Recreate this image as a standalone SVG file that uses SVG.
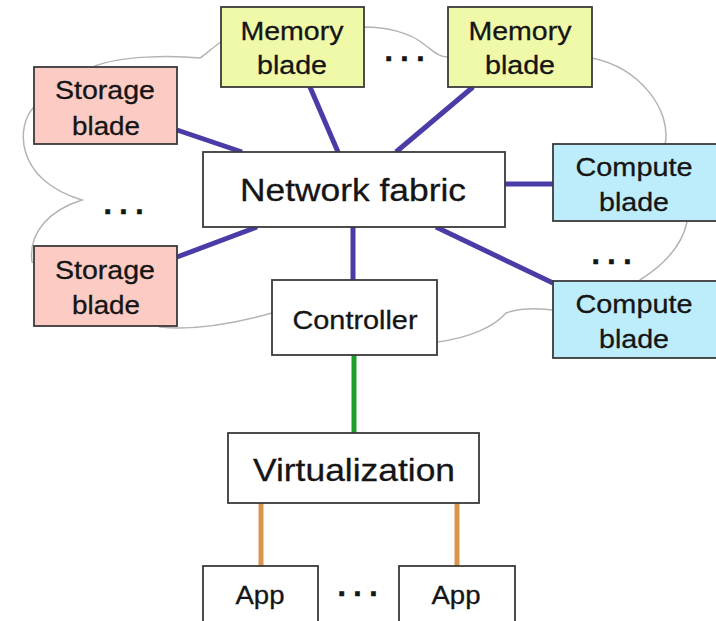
<svg xmlns="http://www.w3.org/2000/svg" width="716" height="621" viewBox="0 0 716 621">
  <style>
    .box { stroke: #3a3a3a; stroke-width: 1.8; }
    .plain { fill: #ffffff; }
    .storage { fill: #fbcbc4; }
    .memory { fill: #eff9a8; }
    .compute { fill: #bdedfa; }
    text { font-family: "Liberation Sans", Arial, sans-serif; fill: #151515; text-anchor: middle; stroke: #151515; stroke-width: 0.3; }
    .t24 { font-size: 26px; }
    .t30 { font-size: 32px; }
    .dots { font-size: 32px; font-weight: bold; letter-spacing: 7px; }
    .fabric { stroke: #4a3ca6; stroke-width: 5; fill: none; }
    .ctl { stroke: #1e9e2a; stroke-width: 5; fill: none; }
    .app { stroke: #d8964c; stroke-width: 5; fill: none; }
    .cloud { fill: none; stroke: #b4b4b4; stroke-width: 1.5; }
  </style>

  <!-- cloud outline behind the blades -->
  <path class="cloud" d="M 240 50 L 221 42 C 212 48 206 54 200 58 C 170 55 120 56 95 66 L 100 90 L 34 107 C 16 125 14 180 82 200 C 50 210 28 232 32 262 L 100 290 L 160 327 C 200 331 240 322 272 313 L 350 330 L 437 342 C 470 338 495 326 506 313 C 522 307 540 309 553 310 L 620 300 L 640 280 C 662 266 682 246 687 222 L 670 180 L 665 145 C 672 110 640 68 592 58 L 520 50 L 448 57 C 438 57 432 50 425 45 C 410 32 385 27 364 27 Z"/>

  <!-- connectors -->
  <g id="connectors">
    <line class="fabric" x1="310" y1="87" x2="338" y2="152"/>
    <line class="fabric" x1="473" y1="87" x2="396" y2="152"/>
    <line class="fabric" x1="177" y1="130" x2="242" y2="152"/>
    <line class="fabric" x1="177" y1="257" x2="257" y2="227"/>
    <line class="fabric" x1="505" y1="184" x2="553" y2="184"/>
    <line class="fabric" x1="436" y1="227" x2="553" y2="283"/>
    <line class="fabric" x1="353" y1="227" x2="353" y2="280"/>
    <line class="ctl" x1="354" y1="355" x2="354" y2="433"/>
    <line class="app" x1="261" y1="503" x2="261" y2="566"/>
    <line class="app" x1="457" y1="503" x2="457" y2="566"/>
  </g>

  <g id="memory-blade-1">
    <rect class="box memory" x="221" y="7" width="143" height="80"/>
    <text class="t24" x="292" y="40" textLength="103" lengthAdjust="spacingAndGlyphs">Memory</text>
    <text class="t24" x="292" y="74" textLength="70" lengthAdjust="spacingAndGlyphs">blade</text>
  </g>
  <g id="memory-blade-2">
    <rect class="box memory" x="448" y="7" width="144" height="80"/>
    <text class="t24" x="520" y="40" textLength="103" lengthAdjust="spacingAndGlyphs">Memory</text>
    <text class="t24" x="520" y="74" textLength="70" lengthAdjust="spacingAndGlyphs">blade</text>
  </g>

  <g id="storage-blade-1">
    <rect class="box storage" x="34" y="67" width="143" height="77"/>
    <text class="t24" x="105" y="99" textLength="100" lengthAdjust="spacingAndGlyphs">Storage</text>
    <text class="t24" x="106" y="135" textLength="68" lengthAdjust="spacingAndGlyphs">blade</text>
  </g>
  <g id="storage-blade-2">
    <rect class="box storage" x="34" y="246" width="143" height="80"/>
    <text class="t24" x="105" y="279" textLength="100" lengthAdjust="spacingAndGlyphs">Storage</text>
    <text class="t24" x="106" y="314" textLength="68" lengthAdjust="spacingAndGlyphs">blade</text>
  </g>

  <g id="network-fabric">
    <rect class="box plain" x="203" y="152" width="302" height="75"/>
    <text class="t30" x="353" y="201" textLength="226" lengthAdjust="spacingAndGlyphs">Network fabric</text>
  </g>

  <g id="compute-blade-1">
    <rect class="box compute" x="553" y="144" width="170" height="77"/>
    <text class="t24" x="634" y="176" textLength="117" lengthAdjust="spacingAndGlyphs">Compute</text>
    <text class="t24" x="634" y="211" textLength="70" lengthAdjust="spacingAndGlyphs">blade</text>
  </g>
  <g id="compute-blade-2">
    <rect class="box compute" x="553" y="281" width="170" height="77"/>
    <text class="t24" x="634" y="313" textLength="117" lengthAdjust="spacingAndGlyphs">Compute</text>
    <text class="t24" x="634" y="348" textLength="70" lengthAdjust="spacingAndGlyphs">blade</text>
  </g>

  <g id="controller">
    <rect class="box plain" x="272" y="280" width="165" height="75"/>
    <text class="t24" x="355" y="329" textLength="125" lengthAdjust="spacingAndGlyphs">Controller</text>
  </g>

  <g id="virtualization">
    <rect class="box plain" x="228" y="433" width="251" height="70"/>
    <text class="t30" x="354" y="481" textLength="202" lengthAdjust="spacingAndGlyphs">Virtualization</text>
  </g>

  <g id="app-1">
    <rect class="box plain" x="203" y="566" width="115" height="58"/>
    <text class="t24" x="260" y="604" textLength="49" lengthAdjust="spacingAndGlyphs">App</text>
  </g>
  <g id="app-2">
    <rect class="box plain" x="399" y="566" width="116" height="58"/>
    <text class="t24" x="456" y="604" textLength="49" lengthAdjust="spacingAndGlyphs">App</text>
  </g>

  <!-- ellipses between repeated blades and apps -->
  <g id="ellipses">
    <text class="dots" x="408" y="61">...</text>
    <text class="dots" x="127" y="214">...</text>
    <text class="dots" x="615" y="264">...</text>
    <text class="dots" x="361" y="596">...</text>
  </g>
</svg>
